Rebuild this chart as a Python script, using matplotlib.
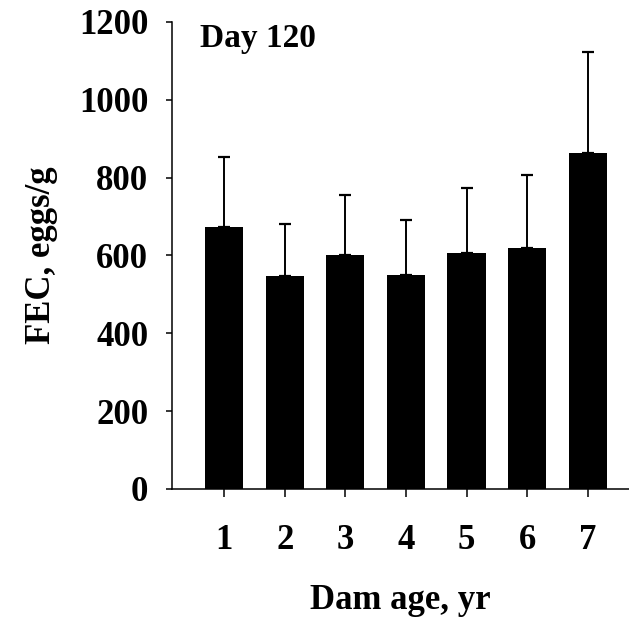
import matplotlib
matplotlib.use("Agg")
from matplotlib import pyplot as plt
import numpy as np

# data
ages = [1, 2, 3, 4, 5, 6, 7]
fec_mean = [673, 547, 602, 549, 606, 618, 863]
fec_upper = [854, 681, 755, 691, 773, 808, 1123]  # top of error bar

err_up = np.array(fec_upper) - np.array(fec_mean)
err_low = np.zeros(len(ages))

plt.rcParams['font.family'] = ['Liberation Serif', 'DejaVu Serif']
plt.rcParams['font.weight'] = 'bold'

fig = plt.figure(figsize=(6.29, 6.21), dpi=100)
ax = fig.add_axes([0.2734, 0.2126, 0.7266, 0.752])

ax.bar(ages, fec_mean, width=0.63, color='black',
       yerr=[err_low, err_up], capsize=4.3,
       error_kw=dict(elinewidth=1.4, capthick=1.6, ecolor='black'))

ax.set_xlim(0.14, 7.68)
ax.set_ylim(0, 1200)
ax.set_yticks(np.arange(0, 1201, 200))
ax.set_xticks(ages)

for s in ['top', 'right']:
    ax.spines[s].set_visible(False)
for s in ['left', 'bottom']:
    ax.spines[s].set_linewidth(1.1)

ax.tick_params(axis='y', direction='out', length=4, width=1.1, pad=13, labelsize=25)
ax.tick_params(axis='x', direction='out', length=6, width=1.1, pad=19, labelsize=25)
for lab in ax.get_xticklabels() + ax.get_yticklabels():
    lab.set_fontweight('bold')

ax.set_ylabel('FEC, eggs/g', fontsize=25, fontweight='bold', labelpad=15)
ax.set_xlabel('Dam age, yr', fontsize=25, fontweight='bold', labelpad=20)

ax.text(0.061, 0.946, 'Day 120', transform=ax.transAxes, fontsize=24,
        fontweight='bold', va='baseline', ha='left')

fig.savefig('out.png', dpi=100)
